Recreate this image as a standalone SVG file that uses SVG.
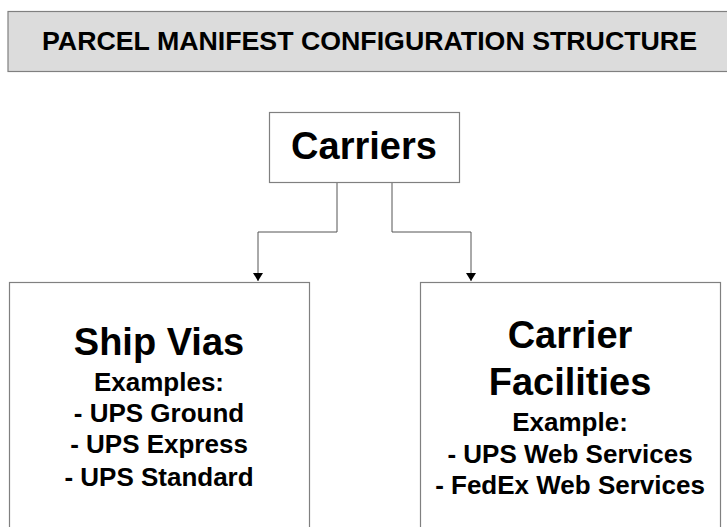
<svg xmlns="http://www.w3.org/2000/svg" width="727" height="527" viewBox="0 0 727 527">
<style>
text{font-family:"Liberation Sans",Arial,Helvetica,sans-serif;font-weight:bold;fill:#000;text-anchor:middle}
.box{fill:#fff;stroke:#808080;stroke-width:1.2}
.title{fill:#dcdcdc;stroke:#808080;stroke-width:1.2}
.big{font-size:38px}
.sm{font-size:26px}
.conn{fill:none;stroke:#555;stroke-width:1}
</style>
<defs>
<marker id="arr" viewBox="0 0 8 10" refX="8" refY="5" markerWidth="8" markerHeight="10" markerUnits="userSpaceOnUse" orient="auto">
<path d="M0,0 L8,5 L0,10 Z" fill="#000"/>
</marker>
</defs>
<rect width="727" height="527" fill="#fff"/>
<g id="title">
<rect class="title" x="8" y="11.5" width="730" height="60"/>
<text x="369.5" y="50" style="font-size:26px" textLength="655" lengthAdjust="spacingAndGlyphs">PARCEL MANIFEST CONFIGURATION STRUCTURE</text>
</g>
<g id="connectors">
<path class="conn" d="M337,182 V232 H258 V281" marker-end="url(#arr)"/>
<path class="conn" d="M392,182 V232 H471 V281" marker-end="url(#arr)"/>
</g>
<g id="carriers">
<rect class="box" x="269.5" y="112.5" width="190" height="70"/>
<text class="big" x="364" y="158.5">Carriers</text>
</g>
<g id="ship-vias">
<rect class="box" x="9.5" y="282.5" width="300" height="260"/>
<text class="big" x="159" y="355">Ship Vias</text>
<text class="sm" x="159" y="391">Examples:</text>
<text class="sm" x="159" y="422">- UPS Ground</text>
<text class="sm" x="159" y="453">- UPS Express</text>
<text class="sm" x="159" y="486">- UPS Standard</text>
</g>
<g id="carrier-facilities">
<rect class="box" x="420.5" y="282.5" width="300" height="260"/>
<text class="big" x="570" y="348">Carrier</text>
<text class="big" x="570" y="395">Facilities</text>
<text class="sm" x="570" y="431">Example:</text>
<text class="sm" x="570" y="463">- UPS Web Services</text>
<text class="sm" x="570" y="494">- FedEx Web Services</text>
</g>
</svg>
